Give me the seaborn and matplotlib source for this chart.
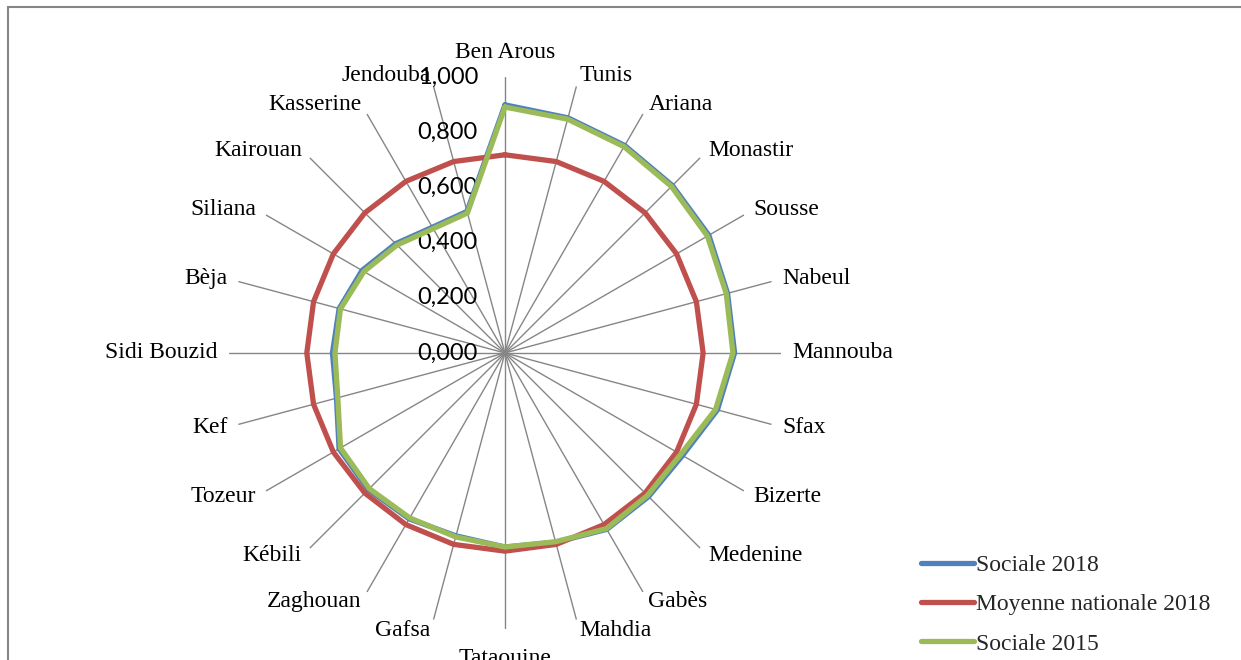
import numpy as np
import pandas as pd
import seaborn as sns
import matplotlib

matplotlib.use("Agg")
import matplotlib.pyplot as plt
from matplotlib.patches import Rectangle
from matplotlib.lines import Line2D
from matplotlib.transforms import ScaledTranslation


categories = [
    "Ben Arous", "Tunis", "Ariana", "Monastir", "Sousse", "Nabeul",
    "Mannouba", "Sfax", "Bizerte", "Medenine", "Gabès", "Mahdia",
    "Tataouine", "Gafsa", "Zaghouan", "Kébili", "Tozeur", "Kef",
    "Sidi Bouzid", "Bèja", "Siliana", "Kairouan", "Kasserine", "Jendouba",
]

sociale_2018 = [
    0.899, 0.882, 0.868, 0.858, 0.853, 0.835, 0.832, 0.797, 0.743, 0.736,
    0.738, 0.710, 0.703, 0.686, 0.694, 0.700, 0.694, 0.632, 0.625, 0.622,
    0.598, 0.560, 0.526, 0.531,
]
moyenne_2018 = [
    0.718, 0.718, 0.718, 0.718, 0.718, 0.718, 0.718, 0.718, 0.718, 0.718,
    0.718, 0.718, 0.718, 0.718, 0.718, 0.718, 0.718, 0.718, 0.718, 0.718,
    0.718, 0.718, 0.718, 0.718,
]
sociale_2015 = [
    0.891, 0.877, 0.863, 0.853, 0.847, 0.830, 0.826, 0.790, 0.735, 0.730,
    0.735, 0.708, 0.703, 0.690, 0.690, 0.695, 0.688, 0.627, 0.616, 0.617,
    0.590, 0.553, 0.520, 0.525,
]

series_names = ["Sociale 2018", "Moyenne nationale 2018", "Sociale 2015"]
series_values = [sociale_2018, moyenne_2018, sociale_2015]
colors = ["#4F81BD", "#C0504D", "#9BBB59"]
r_ticks = [0.0, 0.2, 0.4, 0.6, 0.8, 1.0]

SERIF = "Liberation Serif"
SANS = "Lato"


def main():
    sns.set_theme(style="white")
    plt.rcParams["font.family"] = [SERIF, "DejaVu Sans"]

    n = len(categories)
    theta = np.linspace(0, 2 * np.pi, n, endpoint=False)

    # long table, each series closed back onto its first point
    rows = []
    for name, vals in zip(series_names, series_values):
        for t, v in zip(list(theta) + [2 * np.pi], list(vals) + [vals[0]]):
            rows.append({"theta": t, "value": v, "series": name})
    df = pd.DataFrame(rows)

    fig = plt.figure(figsize=(12.41, 6.60), dpi=100)
    ax = fig.add_axes([0.1845, 0.047, 0.4448, 0.8364], projection="polar")
    ax.set_theta_offset(np.pi / 2)
    ax.set_theta_direction(-1)

    sns.lineplot(
        data=df, x="theta", y="value", hue="series", hue_order=series_names,
        palette=colors, sort=False, estimator=None, linewidth=3.8, ax=ax,
        legend=False, zorder=3,
    )
    for ln in ax.lines:
        ln.set_solid_joinstyle("miter")

    ax.set_ylim(0, 1.0)
    ax.set_xticks(theta)
    ax.set_xticklabels([])
    ax.set_yticks(r_ticks)
    ax.set_yticklabels([])
    ax.xaxis.grid(True, color="#868686", linewidth=1.0)
    ax.yaxis.grid(False)
    ax.spines["polar"].set_visible(False)
    ax.set_xlabel("")
    ax.set_ylabel("")
    ax.patch.set_alpha(0)

    # radial value labels, left of the top spoke
    off = ax.transData + ScaledTranslation(-0.27, 0, fig.dpi_scale_trans)
    for v in r_ticks:
        ax.text(0, v, f"{v:.3f}".replace(".", ","), transform=off,
                ha="right", va="center", fontsize=17, family=SANS,
                color="black", zorder=1)

    # category labels around the outside
    for t, name in zip(theta, categories):
        c = np.sin(t)
        if abs(c) < 1e-6:
            ha = "center"
        elif c > 0:
            ha = "left"
        else:
            ha = "right"
        if abs(np.cos(t) - 1) < 1e-6:
            va, r = "bottom", 1.05
        elif abs(np.cos(t) + 1) < 1e-6:
            va, r = "top", 1.07
        else:
            va, r = "center", 1.04
        ax.text(t, r, name, ha=ha, va=va, fontsize=17, color="black",
                clip_on=False)

    handles = [Line2D([0], [0], color=c, lw=3.8, solid_capstyle="round")
               for c in colors]
    fig.legend(handles, series_names, loc="lower left",
               bbox_to_anchor=(0.725, -0.024), frameon=False, fontsize=17,
               handlelength=2.25, handletextpad=0.1, labelspacing=0.75)

    # chart-area border, partly cut by the image edge
    fig.patches.append(Rectangle((8 / 1241, -0.05), 1.1, 1 - 7 / 660 + 0.05,
                                 transform=fig.transFigure, fill=False,
                                 edgecolor="#868686", linewidth=1.5))

    fig.savefig("out.png", dpi=100)
    plt.close(fig)


if __name__ == "__main__":
    main()
